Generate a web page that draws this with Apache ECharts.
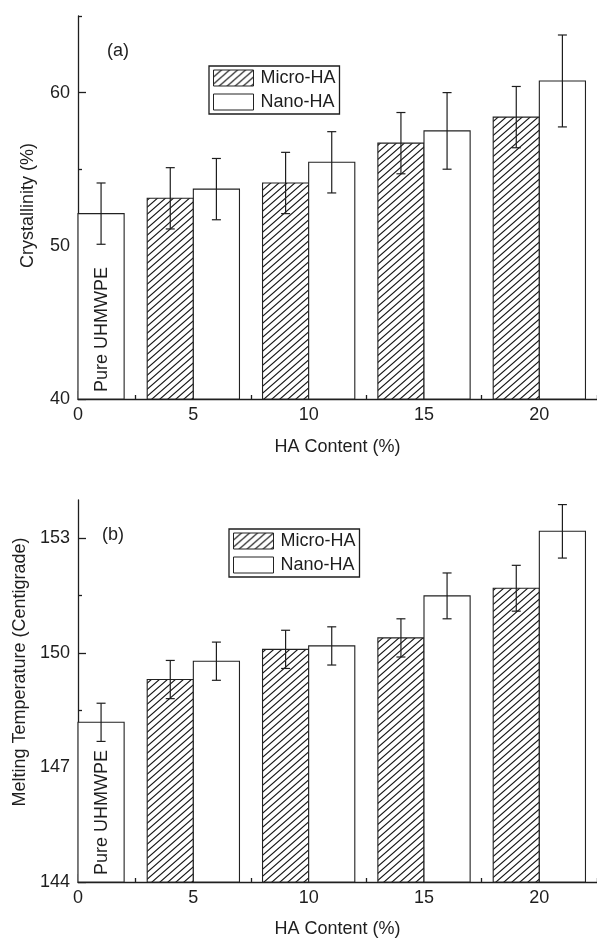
<!DOCTYPE html>
<html><head><meta charset="utf-8">
<script src="https://cdn.jsdelivr.net/npm/echarts@6/dist/echarts.min.js"></script>
<style>html,body{margin:0;padding:0;background:#fff}#c{width:597px;height:939px}</style>
</head><body><div id="c"></div>
<script>
// ---- data ----
const haContent = [5, 10, 15, 20];
const pureLabel = 'Pure UHMWPE';
const seriesNames = ['Micro-HA', 'Nano-HA'];
// (a) crystallinity (%)
const crystPure = 52.1, crystPureErr = 2.0;
const crystMicro = [53.1, 54.1, 56.7, 58.4];
const crystMicroErr = [2.0, 2.0, 2.0, 2.0];
const crystNano = [53.7, 55.45, 57.5, 60.76];
const crystNanoErr = [2.0, 2.0, 2.5, 3.0];
// (b) melting temperature (centigrade)
const meltPure = 148.18, meltPureErr = 0.5;
const meltMicro = [149.3, 150.09, 150.39, 151.69];
const meltMicroErr = [0.5, 0.5, 0.5, 0.6];
const meltNano = [149.78, 150.18, 151.49, 153.18];
const meltNanoErr = [0.5, 0.5, 0.6, 0.7];
// tick labels
const xTickLabels = [0, 5, 10, 15, 20];
const xMinorTicks = [2.5, 7.5, 12.5, 17.5, 22.5];
const crystTickLabels = [40, 50, 60];
const crystMinorTicks = [45, 55, 65];
const meltTickLabels = [144, 147, 150, 153];
const meltMinorTicks = [145.5, 148.5, 151.5];

// ---- styles ----
const FONT = "'Liberation Sans', Arial, Helvetica, sans-serif";
const INK = '#1e1e1e';
const BAR_SPAN = 2;

function makeHatch() {
  const w = 8, h = 7;
  const cv = document.createElement('canvas');
  cv.width = w; cv.height = h;
  const ctx = cv.getContext('2d');
  ctx.fillStyle = '#fff'; ctx.fillRect(0, 0, w, h);
  ctx.strokeStyle = '#161616'; ctx.lineWidth = 1.15;
  ctx.beginPath();
  ctx.moveTo(-w, 2 * h); ctx.lineTo(2 * w, -h);
  ctx.moveTo(-2 * w, 2 * h); ctx.lineTo(w, -h);
  ctx.moveTo(0, 2 * h); ctx.lineTo(3 * w, -h);
  ctx.stroke();
  return { image: cv, repeat: 'repeat' };
}
const hatch = makeHatch();

const chart = echarts.init(document.getElementById('c'), null, { renderer: 'canvas' });

function barRender(withText) {
  return function (params, api) {
    const x0 = api.value(0), x1 = api.value(1), v = api.value(2);
    const cs = params.coordSys;
    const p0 = api.coord([x0, v]);
    const p1 = api.coord([x1, v]);
    const base = cs.y + cs.height;
    const children = [{
      type: 'rect',
      shape: { x: p0[0], y: p0[1], width: p1[0] - p0[0], height: base - p0[1] },
      style: { fill: api.visual('color'), stroke: '#222', lineWidth: 1.1 }
    }];
    if (withText) {
      children.push({
        type: 'text', x: (p0[0] + p1[0]) / 2 + 0.5, y: base - 7, rotation: Math.PI / 2,
        style: { text: pureLabel, font: '18px ' + FONT, fill: INK, align: 'left', verticalAlign: 'middle' }
      });
    }
    return { type: 'group', children };
  };
}
function errRender(params, api) {
  const x = api.value(0), v = api.value(1), e = api.value(2);
  const hi = api.coord([x, v + e]), lo = api.coord([x, v - e]);
  const w = 4.5, st = { stroke: INK, lineWidth: 1.2 };
  return { type: 'group', children: [
    { type: 'line', shape: { x1: hi[0], y1: hi[1], x2: lo[0], y2: lo[1] }, style: st },
    { type: 'line', shape: { x1: hi[0] - w, y1: hi[1], x2: hi[0] + w, y2: hi[1] }, style: st },
    { type: 'line', shape: { x1: lo[0] - w, y1: lo[1], x2: lo[0] + w, y2: lo[1] }, style: st }
  ]};
}

function panelSeries(idx, pure, pureErr, micro, microErr, nano, nanoErr) {
  const errData = [[BAR_SPAN / 2, pure, pureErr]];
  haContent.forEach((c, i) => {
    errData.push([c - BAR_SPAN / 2, micro[i], microErr[i]]);
    errData.push([c + BAR_SPAN / 2, nano[i], nanoErr[i]]);
  });
  return [
    { type: 'custom', name: pureLabel, xAxisIndex: idx * 2, yAxisIndex: idx * 2, itemStyle: { color: '#fff' },
      renderItem: barRender(true), data: [[0, BAR_SPAN, pure]], silent: true },
    { type: 'custom', name: seriesNames[0], xAxisIndex: idx * 2, yAxisIndex: idx * 2, itemStyle: { color: hatch },
      renderItem: barRender(false), data: haContent.map((c, i) => [c - BAR_SPAN, c, micro[i]]), silent: true },
    { type: 'custom', name: seriesNames[1], xAxisIndex: idx * 2, yAxisIndex: idx * 2, itemStyle: { color: '#fff' },
      renderItem: barRender(false), data: haContent.map((c, i) => [c, c + BAR_SPAN, nano[i]]), silent: true },
    { type: 'custom', name: 'err' + idx, xAxisIndex: idx * 2, yAxisIndex: idx * 2, z: 5,
      renderItem: errRender, data: errData, silent: true }
  ];
}

const axisLineStyle = { color: INK, width: 1.3 };
function xAxes(grid, nameGap) {
  return [
    { gridIndex: grid, type: 'value', min: 0, max: 22.5, position: 'bottom',
      axisLine: { show: true, onZero: false, lineStyle: axisLineStyle },
      axisTick: { show: true, inside: true, length: 8, customValues: xTickLabels, lineStyle: axisLineStyle },
      axisLabel: { show: true, customValues: xTickLabels, margin: 7, fontSize: 18, fontFamily: FONT, color: INK },
      splitLine: { show: false },
      name: 'HA Content (%)', nameLocation: 'middle', nameGap: nameGap,
      nameTextStyle: { fontSize: 18, fontFamily: FONT, color: INK } },
    { gridIndex: grid, type: 'value', min: 0, max: 22.5, position: 'bottom', offset: 0,
      axisLine: { show: false },
      axisTick: { show: true, inside: true, length: 4, customValues: xMinorTicks, lineStyle: axisLineStyle },
      axisLabel: { show: false }, splitLine: { show: false } }
  ];
}
function yAxes(grid, min, max, labels, minor) {
  return [
    { gridIndex: grid, type: 'value', min, max, position: 'left',
      axisLine: { show: true, onZero: false, lineStyle: axisLineStyle },
      axisTick: { show: true, inside: true, length: 8, customValues: labels, lineStyle: axisLineStyle },
      axisLabel: { show: true, customValues: labels, margin: 8, fontSize: 18, fontFamily: FONT, color: INK },
      splitLine: { show: false } },
    { gridIndex: grid, type: 'value', min, max, position: 'left', offset: 0,
      axisLine: { show: false },
      axisTick: { show: true, inside: true, length: 4, customValues: minor, lineStyle: axisLineStyle },
      axisLabel: { show: false }, splitLine: { show: false } }
  ];
}
function legend(left, top) {
  return {
    show: true, orient: 'vertical', left, top, data: seriesNames,
    itemWidth: 40, itemHeight: 16, itemGap: 6, padding: [3, 4, 3, 4],
    borderColor: INK, borderWidth: 1.3, borderRadius: 0, backgroundColor: '#fff',
    icon: 'rect', selectedMode: false,
    itemStyle: { borderColor: '#222', borderWidth: 1 },
    textStyle: { fontSize: 18, fontFamily: FONT, color: INK, padding: [0, 0, 0, 2] }
  };
}

const option = {
  animation: false,
  backgroundColor: '#fff',
  grid: [
    { left: 78, top: 16, width: 522, height: 383, containLabel: false },
    { left: 78, top: 500, width: 522, height: 383, containLabel: false }
  ],
  xAxis: [...xAxes(0, 39), ...xAxes(1, 38)],
  yAxis: [...yAxes(0, 40, 65, crystTickLabels, crystMinorTicks), ...yAxes(1, 144, 154, meltTickLabels, meltMinorTicks)],
  legend: [legend(209, 66), legend(229, 529)],
  graphic: [
    { type: 'text', left: 107, top: 42, style: { text: '(a)', font: '18px ' + FONT, fill: INK } },
    { type: 'text', left: 102, top: 526, style: { text: '(b)', font: '18px ' + FONT, fill: INK } },
    { type: 'text', x: 28, y: 205.5, rotation: Math.PI / 2,
      style: { text: 'Crystallinity (%)', font: '18px ' + FONT, fill: INK, align: 'center', verticalAlign: 'middle' } },
    { type: 'text', x: 20, y: 672, rotation: Math.PI / 2,
      style: { text: 'Melting Temperature (Centigrade)', font: '18px ' + FONT, fill: INK, align: 'center', verticalAlign: 'middle' } }
  ],
  series: [
    ...panelSeries(0, crystPure, crystPureErr, crystMicro, crystMicroErr, crystNano, crystNanoErr),
    ...panelSeries(1, meltPure, meltPureErr, meltMicro, meltMicroErr, meltNano, meltNanoErr)
  ]
};
chart.setOption(option);
</script>
</body></html>
